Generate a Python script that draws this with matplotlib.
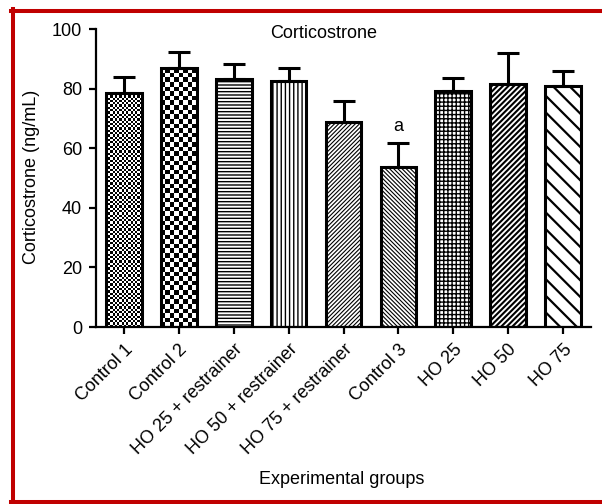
import matplotlib
matplotlib.use('Agg')
import matplotlib.pyplot as plt
import numpy as np
from matplotlib.lines import Line2D

plt.rcParams['font.family'] = ['Liberation Sans', 'DejaVu Sans']
plt.rcParams['hatch.linewidth'] = 0.9

# данные (ng/mL)
groups = ['Control 1', 'Control 2', 'HO 25 + restrainer', 'HO 50 + restrainer',
          'HO 75 + restrainer', 'Control 3', 'HO 25', 'HO 50', 'HO 75']
means = [78.4, 86.8, 83.2, 82.5, 68.7, 53.7, 79.3, 81.5, 80.9]
sem = [5.4, 5.4, 5.0, 4.3, 7.2, 8.1, 4.1, 10.5, 5.0]
signif = ['', '', '', '', '', 'a', '', '', '']

# стиль заливки: шахматка (размер клетки в px) или штриховка
checker_px = [2.3, 4.6, None, None, None, None, None, None, None]
hatches = [None, None, '-' * 5, '|' * 4, '/' * 8, '\\' * 8, '+' * 4, '/' * 6, '\\' * 2]
hatch_lw = [0.9, 0.9, 1.0, 1.0, 0.8, 0.8, 1.0, 1.5, 1.6]

W, H = 602, 504
fig = plt.figure(figsize=(W / 100, H / 100), dpi=100)
ax = fig.add_axes([96 / W, 1 - 327 / H, 495 / W, 298 / H])

x = np.arange(len(groups))
bars = ax.bar(x, means, width=0.65, color='white', edgecolor='black',
              linewidth=2.2, zorder=2)
ax.errorbar(x, means, yerr=[np.zeros(len(x)), sem], fmt='none', ecolor='black',
            elinewidth=2.2, capsize=8, capthick=2.2, zorder=3)

ax.set_xlim(-0.51, len(groups) - 0.49)
ax.set_ylim(0, 100)

# заливка столбцов
for b, h, hl, cp in zip(bars, hatches, hatch_lw, checker_px):
    if h:
        b.set_hatch(h)
        b.set_hatch_linewidth(hl)
    if cp:
        b.set_facecolor('none')
        x0, x1 = b.get_x(), b.get_x() + b.get_width()
        p0 = ax.transData.transform((x0, 0))
        p1 = ax.transData.transform((x1, b.get_height()))
        nc = max(1, int(round((p1[0] - p0[0]) / cp)))
        nr = max(1, int(round((p1[1] - p0[1]) / cp)))
        pattern = np.indices((nr, nc)).sum(axis=0) % 2
        im = ax.imshow(pattern, cmap='gray', extent=[x0, x1, 0, b.get_height()],
                       origin='lower', interpolation='nearest', aspect='auto',
                       zorder=1.5)
        im.set_clip_path(b)

for xi, m, s, t in zip(x, means, sem, signif):
    if t:
        ax.text(xi, m + s + 5.5, t, ha='center', va='center', fontsize=13)

ax.set_yticks([0, 20, 40, 60, 80, 100])
ax.set_xticks(x, groups, rotation=45, ha='right', rotation_mode='anchor')
ax.tick_params(labelsize=13, width=1.6, length=5, pad=5)
for side in ['top', 'right']:
    ax.spines[side].set_visible(False)
for side in ['left', 'bottom']:
    ax.spines[side].set_linewidth(1.6)

fig.text(324 / W, 1 - 33 / H, 'Corticostrone', ha='center', va='center', fontsize=13)
fig.text(32 / W, 1 - 177 / H, 'Corticostrone (ng/mL)', ha='center', va='center',
         rotation=90, fontsize=13)
fig.text(341.5 / W, 1 - 479 / H, 'Experimental groups', ha='center', va='center',
         fontsize=13)

# красная рамка (правая сторона обрезана)
red = '#C00000'
fig.add_artist(Line2D([13 / W, 13 / W], [1 - 502 / H, 1 - 9 / H], color=red, lw=2.9))
fig.add_artist(Line2D([11 / W, 1.0], [1 - 11 / H, 1 - 11 / H], color=red, lw=2.9))
fig.add_artist(Line2D([11 / W, 1.0], [1 - 502 / H, 1 - 502 / H], color=red, lw=2.9))

fig.savefig('out.png', dpi=100)
